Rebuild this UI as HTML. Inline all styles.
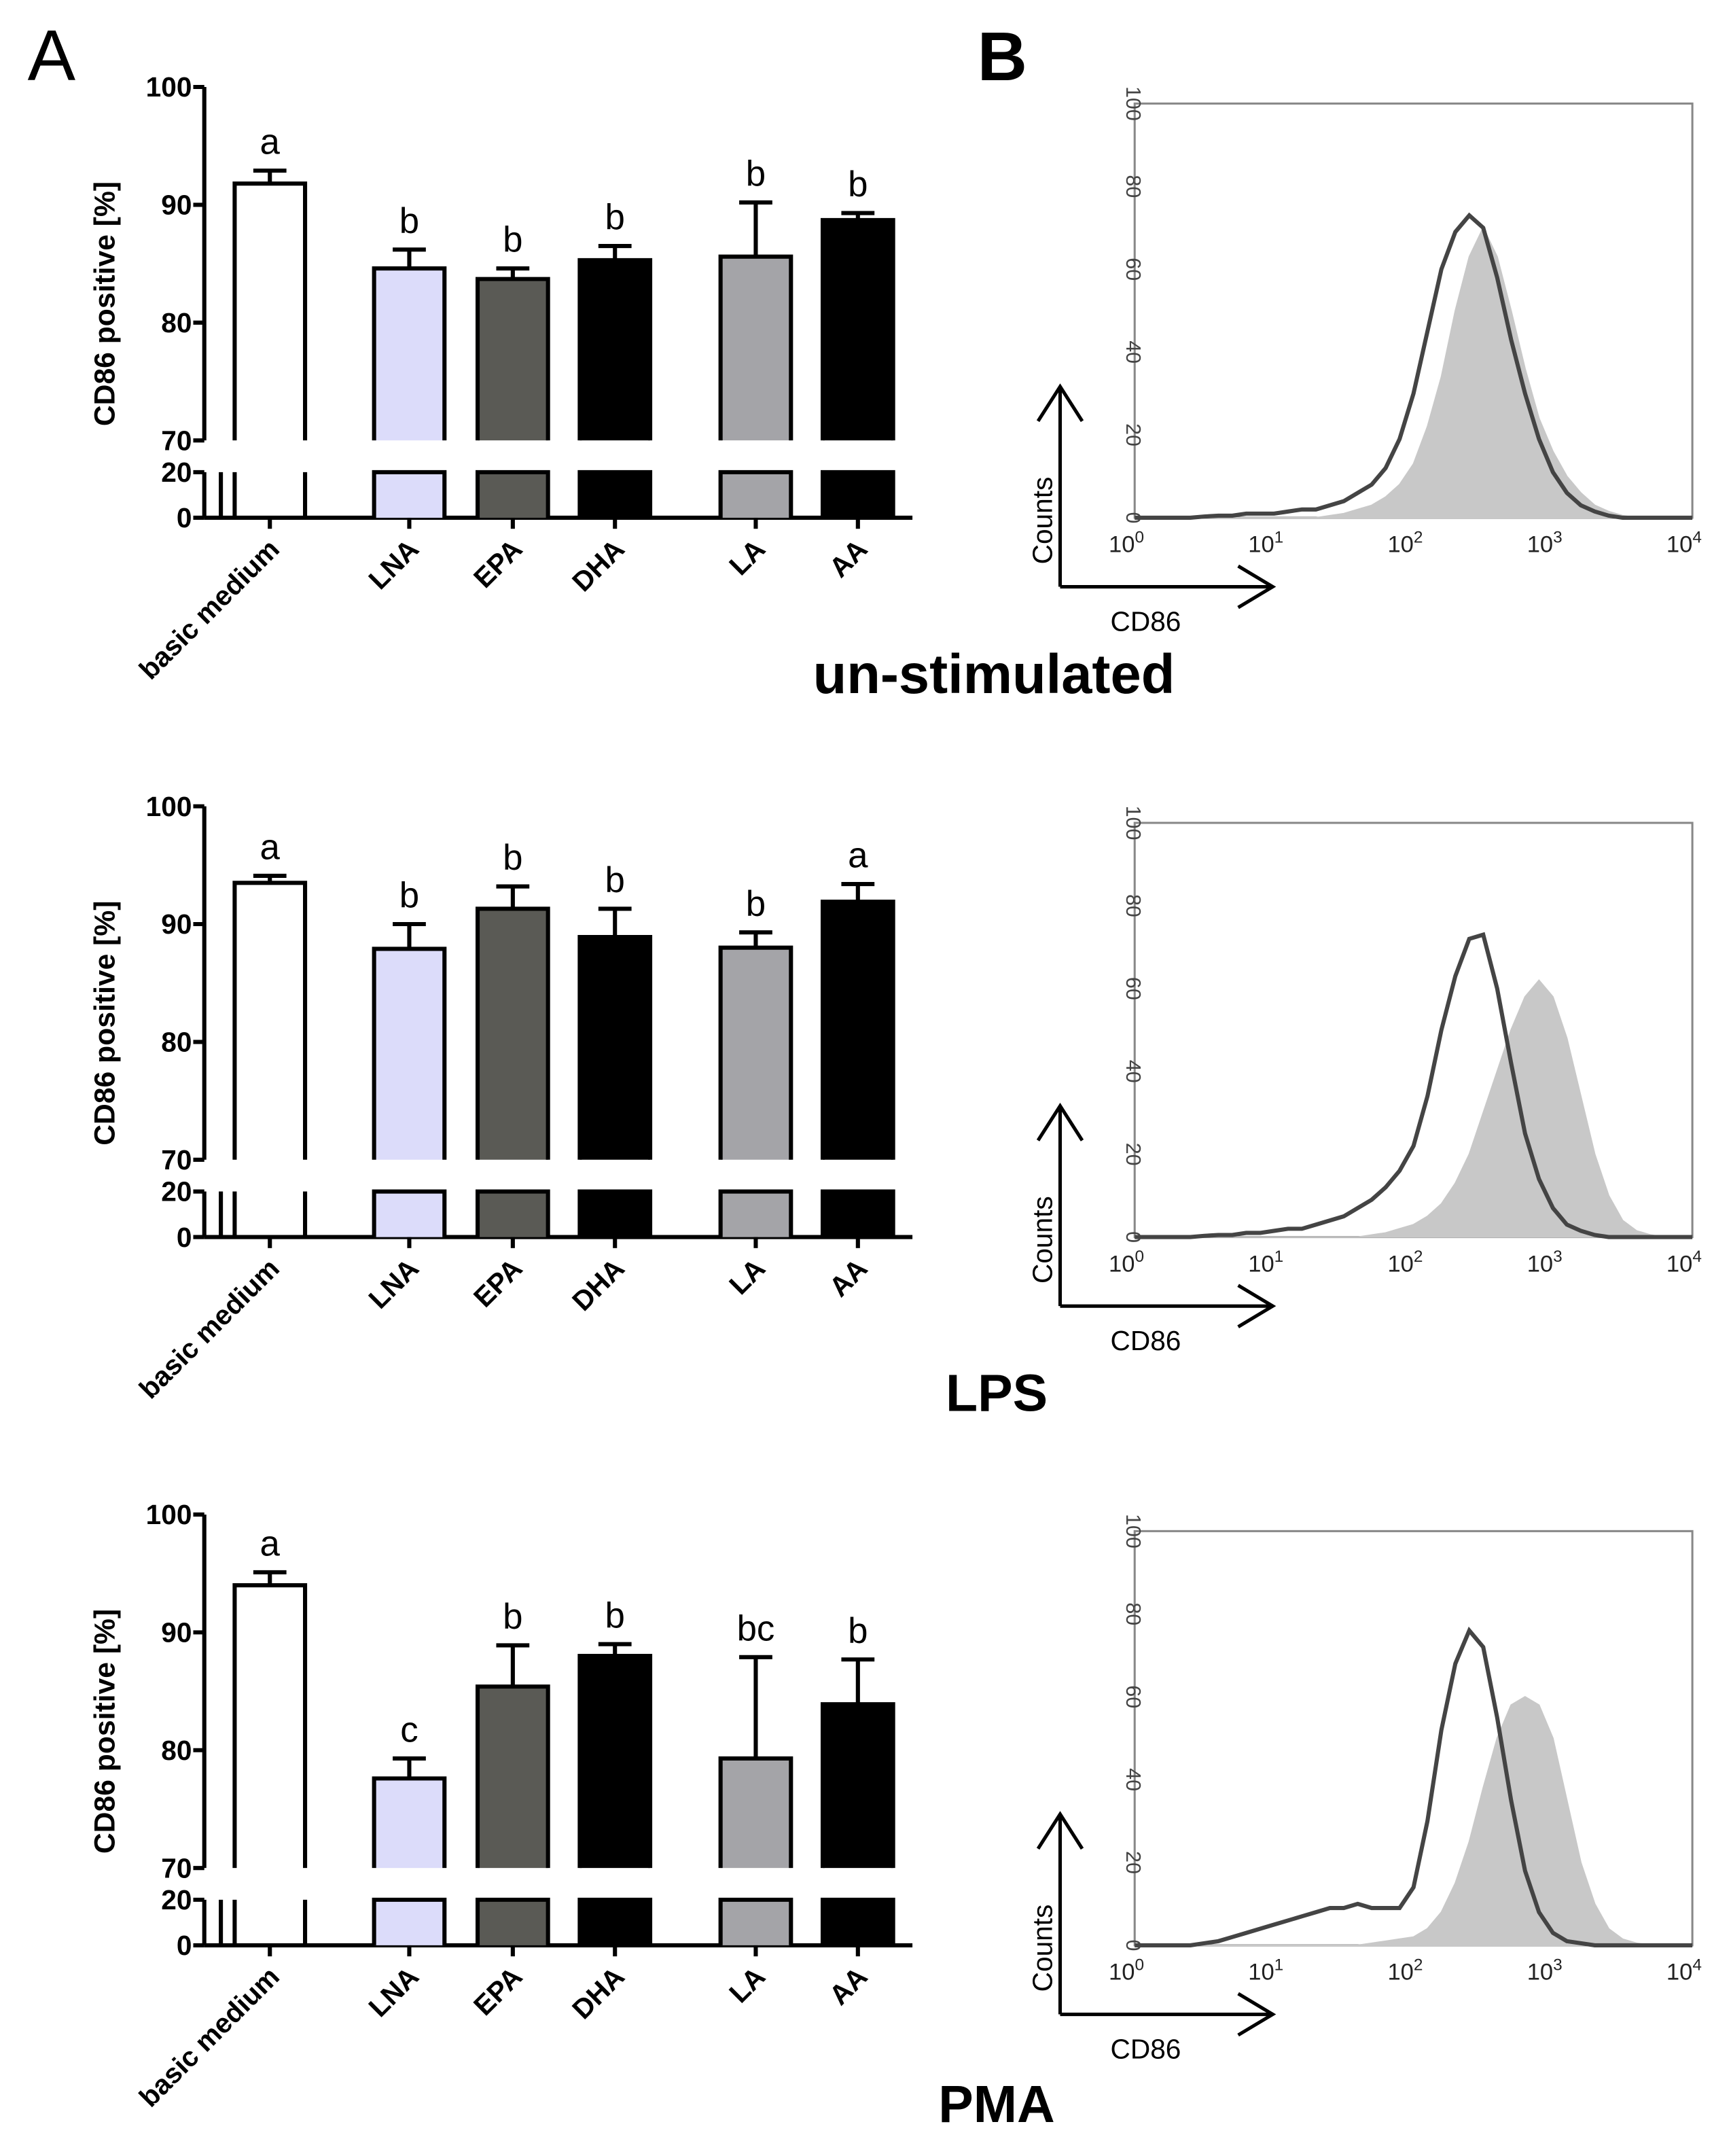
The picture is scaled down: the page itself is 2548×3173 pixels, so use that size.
<!DOCTYPE html>
<html><head><meta charset="utf-8"><style>
html,body{margin:0;padding:0;background:#fff}
svg{display:block}
text{font-family:"Liberation Sans",Arial,sans-serif}
</style></head><body>
<svg id="fig" xmlns="http://www.w3.org/2000/svg" width="2548" height="3173" viewBox="0 0 1254 1561.6" preserveAspectRatio="none">
<text x="20" y="58" font-size="52">A</text>
<text x="708" y="58" font-size="50" font-weight="bold">B</text>
<text x="720" y="502" font-size="40" font-weight="bold" text-anchor="middle">un-stimulated</text>
<text x="722" y="1022" font-size="38" font-weight="bold" text-anchor="middle">LPS</text>
<text x="722" y="1537" font-size="38" font-weight="bold" text-anchor="middle">PMA</text>
</svg>
<script>
const categories=["basic medium","LNA","EPA","DHA","LA","AA"];
const valuesUnstim=[91.8,84.6,83.7,85.3,85.6,88.7];
const errTopUnstim=[92.9,86.2,84.6,86.5,90.2,89.3];
const lettersUnstim=["a","b","b","b","b","b"];
const valuesLPS=[93.5,87.9,91.3,88.9,88.0,91.9];
const errTopLPS=[94.1,90.0,93.2,91.3,89.3,93.4];
const lettersLPS=["a","b","b","b","b","a"];
const valuesPMA=[94.0,77.6,85.4,88.0,79.3,83.9];
const errTopPMA=[95.1,79.3,88.9,89.0,87.9,87.7];
const lettersPMA=["a","c","b","b","bc","b"];
const yTicksUpper=[70,80,90,100];
const yTicksLower=[0,20];
const histLog=[0,0.1,0.2,0.3,0.4,0.5,0.6,0.7,0.8,0.9,1,1.1,1.2,1.3,1.4,1.5,1.6,1.7,1.8,1.9,2,2.1,2.2,2.3,2.4,2.5,2.6,2.7,2.8,2.9,3,3.1,3.2,3.3,3.4,3.5,3.6,3.7,3.8,3.9,4];
const grayUnstim=[0,0,0,0,0,0,0,0,0,0,0,0,0,0,0.5,1,2,3,5,8,13,22,34,50,63,70,63,50,36,24,16,10,6,3,1.5,0.5,0,0,0,0,0];
const lineUnstim=[0,0,0,0,0,0.3,0.5,0.5,1,1,1,1.5,2,2,3,4,6,8,12,19,30,45,60,69,73,70,58,43,30,19,11,6,3,1.5,0.5,0,0,0,0,0,0];
const grayLPS=[0,0,0,0,0,0,0,0,0,0,0,0,0,0,0,0,0,0.5,1,2,3,5,8,13,20,30,40,50,58,62,58,48,34,20,10,4,1.5,0.5,0,0,0];
const lineLPS=[0,0,0,0,0,0.3,0.5,0.5,1,1,1.5,2,2,3,4,5,7,9,12,16,22,34,50,63,72,73,60,42,25,14,7,3,1.5,0.5,0,0,0,0,0,0,0];
const grayPMA=[0,0,0,0,0,0,0,0,0,0,0,0,0,0,0,0,0,0.5,1,1.5,2,4,8,15,25,38,50,58,60,58,50,35,20,10,4,1.5,0.5,0,0,0,0];
const linePMA=[0,0,0,0,0,0.5,1,2,3,4,5,6,7,8,9,9,10,9,9,9,14,30,52,68,76,72,55,35,18,8,3,1,0.5,0,0,0,0,0,0,0,0];
const histYTicks=[0,20,40,60,80,100];
const histXTicks=[0,1,2,3,4];

const NS="http://www.w3.org/2000/svg";
const svg=document.getElementById('fig');
function mk(tag,attrs,parent){const e=document.createElementNS(NS,tag);for(const k in attrs)e.setAttribute(k,attrs[k]);(parent||svg).appendChild(e);return e;}
const fills=["#ffffff","#dcdcfa","#5a5a55","#000000","#a4a4a8","#000000"];
const barX=[170,271,346,420,522,596];
const barW=51;

function barPanel(oy,vals,errs,letters,key){
  const g=mk('g',{});
  
  
  const yTop=oy, y70=oy+256, y20=oy+279, y0=oy+312;
  const yU=v=>y70-(v-70)/30*(y70-yTop);
  const yL=v=>y0-v/20*(y0-y20);
  const ax=mk('path',{d:`M148,${yTop}V${y70} M148,${y20}V${y0} M160,${y20}V${y0} M148,${y0}H661`,stroke:'#000','stroke-width':3,fill:'none'},g);
  
  
  yTicksUpper.forEach(t=>{const y=yU(t);mk('line',{x1:140,x2:148,y1:y,y2:y,stroke:'#000','stroke-width':3},g);
    const tx=mk('text',{x:139,y:y+7,'font-size':20,'font-weight':'bold','text-anchor':'end'},g);tx.textContent=t;
    
    });
  yTicksLower.forEach(t=>{const y=yL(t);mk('line',{x1:140,x2:148,y1:y,y2:y,stroke:'#000','stroke-width':3},g);
    const tx=mk('text',{x:139,y:y+7,'font-size':20,'font-weight':'bold','text-anchor':'end'},g);tx.textContent=t;
    
    });
  const yt=mk('text',{x:0,y:0,'font-size':21,'font-weight':'bold','text-anchor':'middle',transform:`translate(83,${oy+157}) rotate(-90)`},g);
  yt.textContent='CD86 positive [%]';
  
  
  categories.forEach((c,i)=>{
    const x=barX[i], cx=x+barW/2, yv=yU(vals[i]), ye=yU(errs[i]);
    mk('line',{x1:cx,x2:cx,y1:ye,y2:yv,stroke:'#000','stroke-width':3},g);
    mk('line',{x1:cx-12,x2:cx+12,y1:ye,y2:ye,stroke:'#000','stroke-width':3},g);
    const b1=mk('path',{d:`M${x},${y70}V${yv}H${x+barW}V${y70}`,fill:fills[i],stroke:'#000','stroke-width':3},g);
    
    
    if(i>0){
      const r=mk('path',{d:`M${x},${y0}V${y20}H${x+barW}V${y0}`,fill:fills[i],stroke:'#000','stroke-width':3},g);
      
      
    } else {
      const b2=mk('path',{d:`M${x},${y20}V${y0}M${x+barW},${y0}V${y20}`,fill:'none',stroke:'#000','stroke-width':3},g);
      
      
    }
    mk('line',{x1:cx,x2:cx,y1:y0,y2:y0+8,stroke:'#000','stroke-width':3},g);
    const lt=mk('text',{x:cx,y:ye-12,'font-size':26,'text-anchor':'middle'},g);lt.textContent=letters[i];
    
    
    const xl=mk('text',{x:0,y:0,'font-size':20,'font-weight':'bold','text-anchor':'end',transform:`translate(${cx+8},${y0+24}) rotate(-45)`},g);
    xl.textContent=c;
    
    
  });
}
barPanel(63,valuesUnstim,errTopUnstim,lettersUnstim,'unstimulated');
barPanel(584,valuesLPS,errTopLPS,lettersLPS,'lps');
barPanel(1097,valuesPMA,errTopPMA,lettersPMA,'pma');

function hist(oy,gray,line,key){
  const g=mk('g',{});
  
  
  const x0=822,x1=1226,yb=oy+300,yt=oy;
  const sx=l=>x0+l/4*(x1-x0), sy=c=>yb-c/100*(yb-yt);
  const box=mk('rect',{x:x0,y:yt,width:x1-x0,height:yb-yt,fill:'none',stroke:'#888','stroke-width':1.5},g);
  
  
  let d=`M${sx(histLog[0])},${yb}`;histLog.forEach((l,i)=>{d+=`L${sx(l)},${sy(gray[i])}`});d+=`L${sx(4)},${yb}Z`;
  const gp=mk('path',{d:d,fill:'#c8c8c8',stroke:'#c8c8c8','stroke-width':1},g);
  
  
  let d2='';histLog.forEach((l,i)=>{d2+=(i?'L':'M')+sx(l)+','+sy(line[i])});
  const lp=mk('path',{d:d2,fill:'none',stroke:'#444','stroke-width':3},g);
  
  
  histYTicks.forEach(t=>{const tx=mk('text',{x:0,y:0,'font-size':15,fill:'#444','text-anchor':'middle',transform:`translate(${x0-6},${sy(t)}) rotate(90)`},g);tx.textContent=t;
    
    });
  histXTicks.forEach(t=>{const tx=mk('text',{x:sx(t)-6,y:yb+25,'font-size':17,fill:'#222','text-anchor':'middle'},g);
    tx.innerHTML=`10<tspan dy="-7" font-size="12">${t}</tspan>`;
    
    });
  const ar=mk('path',{d:`M768,${yb+50}V${yb-95} M752,${yb-70}L768,${yb-95}L784,${yb-70} M768,${yb+50}H922 M897,${yb+35}L922,${yb+50}L897,${yb+65}`,stroke:'#000','stroke-width':2.5,fill:'none'},g);
  
  
  const ct=mk('text',{x:0,y:0,'font-size':20,'text-anchor':'middle',transform:`translate(762,${yb+2}) rotate(-90)`},g);ct.textContent='Counts';
  
  
  const cd=mk('text',{x:830,y:yb+82,'font-size':20,'text-anchor':'middle'},g);cd.textContent='CD86';
  
  
}
hist(75,grayUnstim,lineUnstim,'unstimulated');
hist(596,grayLPS,lineLPS,'lps');
hist(1109,grayPMA,linePMA,'pma');
</script>
</body></html>
